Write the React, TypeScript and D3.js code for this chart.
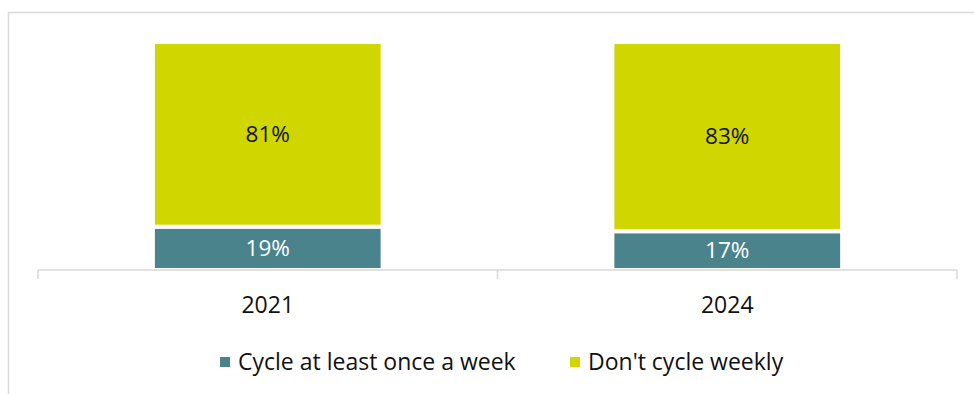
import React from "react";
import * as d3 from "d3";

const categories = ["2021", "2024"];
const cycleWeekly = [19, 17];
const dontCycle = [81, 83];
const seriesNames = ["Cycle at least once a week", "Don't cycle weekly"];
const colors = ["#4A838C", "#D0D700"];

const W = 974;
const H = 394;
const FONT = "'Open Sans', sans-serif";

export default function App() {
  const x = d3
    .scaleBand<string>()
    .domain(categories)
    .range([38, 957])
    .paddingInner(0.5)
    .paddingOuter(0.25);
  const y = d3.scaleLinear().domain([0, 100]).range([270, 42]);

  const data = categories.map((c, i) => ({ cat: c, a: cycleWeekly[i], b: dontCycle[i] }));
  const stack = d3.stack<any>().keys(["a", "b"])(data);

  const step = x.step();
  const tickXs = [38, ...categories.map((c) => (x(c) as number) + x.bandwidth() / 2 + step / 2)];

  return (
    <svg width={W} height={H} style={{ position: "absolute", left: 0, top: 0 }} fontFamily={FONT}>
      <rect x={0} y={0} width={W} height={H} fill="#fff" />
      <rect x={8.5} y={12.5} width={2000} height={2000} fill="none" stroke="#D9D9D9" strokeWidth={1.5} />
      {stack.map((s, si) =>
        s.map((d, i) => {
          const x0 = x(categories[i]) as number;
          const y0 = y(d[1]);
          const y1 = y(d[0]);
          return (
            <g key={`${si}-${i}`}>
              <rect x={x0} y={y0} width={x.bandwidth()} height={y1 - y0} fill={colors[si]} stroke="#fff" strokeWidth={4} />
              <text
                x={x0 + x.bandwidth() / 2}
                y={(y0 + y1) / 2}
                dy="0.35em"
                textAnchor="middle"
                fontSize={22.5}
                fill={si === 0 ? "#fff" : "#111"}
              >
                {`${d[1] - d[0]}%`}
              </text>
            </g>
          );
        })
      )}
      <line x1={38} x2={957} y1={270} y2={270} stroke="#D9D9D9" strokeWidth={1.5} />
      {tickXs.map((tx, i) => (
        <line key={i} x1={tx} x2={tx} y1={270} y2={279} stroke="#D9D9D9" strokeWidth={1.5} />
      ))}
      {categories.map((c) => (
        <text key={c} x={(x(c) as number) + x.bandwidth() / 2} y={313} textAnchor="middle" fontSize={23} fill="#111">
          {c}
        </text>
      ))}
      <g>
        <rect x={220} y={357} width={10} height={10} fill={colors[0]} />
        <text x={238} y={369.5} fontSize={23} fill="#111">{seriesNames[0]}</text>
        <rect x={570} y={357} width={10} height={10} fill={colors[1]} />
        <text x={588} y={369.5} fontSize={23} fill="#111">{seriesNames[1]}</text>
      </g>
    </svg>
  );
}
